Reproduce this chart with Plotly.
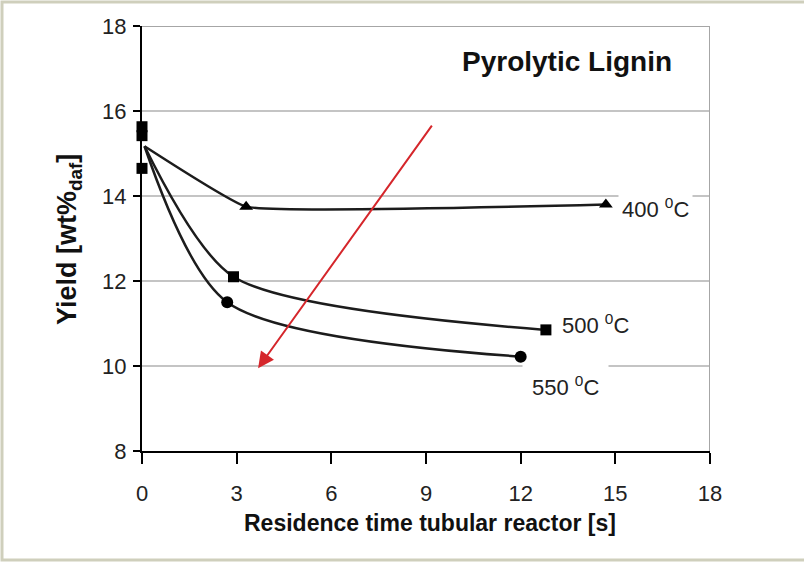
import plotly.graph_objects as go

# ---- data ----
start_x = 0.08
start_y = 15.17

t400_x = [3.3, 14.7]
t400_y = [13.75, 13.8]
t500_x = [2.9, 12.8]
t500_y = [12.1, 10.85]
t550_x = [2.7, 12.0]
t550_y = [11.5, 10.22]

init_x = [0.0, 0.0, 0.0]
init_y = [15.63, 15.42, 14.65]

x_ticks = [0, 3, 6, 9, 12, 15, 18]
y_ticks = [8, 10, 12, 14, 16, 18]

labels = ["400 <sup>0</sup>C", "500 <sup>0</sup>C", "550 <sup>0</sup>C"]

FONT = "Liberation Sans, Arial, sans-serif"
LINE = "#1c1c1c"

fig = go.Figure()

series = [(t400_x, t400_y, "triangle-up", 12, 0.3),
          (t500_x, t500_y, "square", 11, 0.75),
          (t550_x, t550_y, "circle", 12, 0.8)]
for xs, ys, sym, sz, sm in series:
    fig.add_trace(go.Scatter(
        x=[start_x] + xs, y=[start_y] + ys, mode="lines",
        line=dict(color=LINE, width=2.5, shape="spline", smoothing=sm),
        showlegend=False, hoverinfo="skip"))
    fig.add_trace(go.Scatter(
        x=xs, y=ys, mode="markers",
        marker=dict(symbol=sym, size=sz, color="black"),
        showlegend=False))

fig.add_trace(go.Scatter(
    x=init_x, y=init_y, mode="markers", cliponaxis=False,
    marker=dict(symbol="square", size=11, color="black"),
    showlegend=False))

# plot frame: px helpers
L, R, T, B = 142, 710, 26, 451
def px(p):
    return (p - L) / (R - L)
def py(p):
    return (B - p) / (B - T)

shapes = [
    dict(type="line", xref="x", yref="y", x0=0, x1=18, y0=18, y1=18,
         line=dict(color="#a6a6a6", width=2)),
    dict(type="line", xref="x", yref="y", x0=18, x1=18, y0=8, y1=18,
         line=dict(color="#a6a6a6", width=2)),
    dict(type="rect", xref="paper", yref="paper",
         x0=px(2), x1=px(808), y0=py(560), y1=py(2),
         line=dict(color="#cfcfbc", width=3), fillcolor="rgba(0,0,0,0)"),
]

annotations = [
    dict(text="<b>Pyrolytic Lignin</b>", xref="paper", yref="paper",
         x=px(567), y=py(61), xanchor="center", yanchor="middle", showarrow=False,
         font=dict(family=FONT, size=28, color="#111")),
    dict(text="<b>Residence time tubular reactor [s]</b>", xref="paper", yref="paper",
         x=px(430), y=py(523), xanchor="center", yanchor="middle", showarrow=False,
         font=dict(family=FONT, size=23, color="#111")),
    dict(text="<b>Yield [wt%<sub>daf</sub>]</b>", xref="paper", yref="paper",
         x=px(69), y=py(240), xanchor="center", yanchor="middle",
         showarrow=False, textangle=-90,
         font=dict(family=FONT, size=27, color="#111")),
    # red arrow
    dict(x=3.68, y=9.95, ax=9.22, ay=15.69, xref="x", yref="y",
         axref="x", ayref="y", text="", showarrow=True,
         arrowhead=2, arrowsize=1.6, arrowwidth=2, arrowcolor="#d5262b"),
]

label_pos = [(622, 208, 3),
             (562, 324, 2),
             (532, 386, 9)]
for txt, (lx, ly, pad) in zip(labels, label_pos):
    annotations.append(dict(
        text=txt, xref="paper", yref="paper", x=px(lx - pad - 1), y=py(ly),
        xanchor="left", yanchor="middle", showarrow=False,
        bgcolor="white", borderpad=pad,
        font=dict(family=FONT, size=22, color="#222")))

tickfont = dict(family=FONT, size=22, color="#222")
fig.update_layout(
    width=804, height=562,
    margin=dict(l=L, r=804 - R, t=T, b=562 - B),
    paper_bgcolor="white", plot_bgcolor="white",
    font=dict(family=FONT, size=22, color="#222"),
    shapes=shapes, annotations=annotations,
    xaxis=dict(range=[0, 18], tickvals=x_ticks, ticktext=[str(v) for v in x_ticks],
               tickfont=tickfont,
               showgrid=False, zeroline=False, showline=True,
               linecolor="black", linewidth=2, ticks="outside", ticklen=11,
               tickwidth=2, tickcolor="black", ticklabelstandoff=11),
    yaxis=dict(range=[8, 18], tickvals=y_ticks, ticktext=[str(v) for v in y_ticks],
               tickfont=tickfont,
               showgrid=True, gridcolor="#c4c4c4", gridwidth=2,
               zeroline=False, showline=True,
               linecolor="black", linewidth=2, ticks="outside", ticklen=7,
               tickwidth=2, tickcolor="black", ticklabelstandoff=2),
)

fig.write_html("out.html")
